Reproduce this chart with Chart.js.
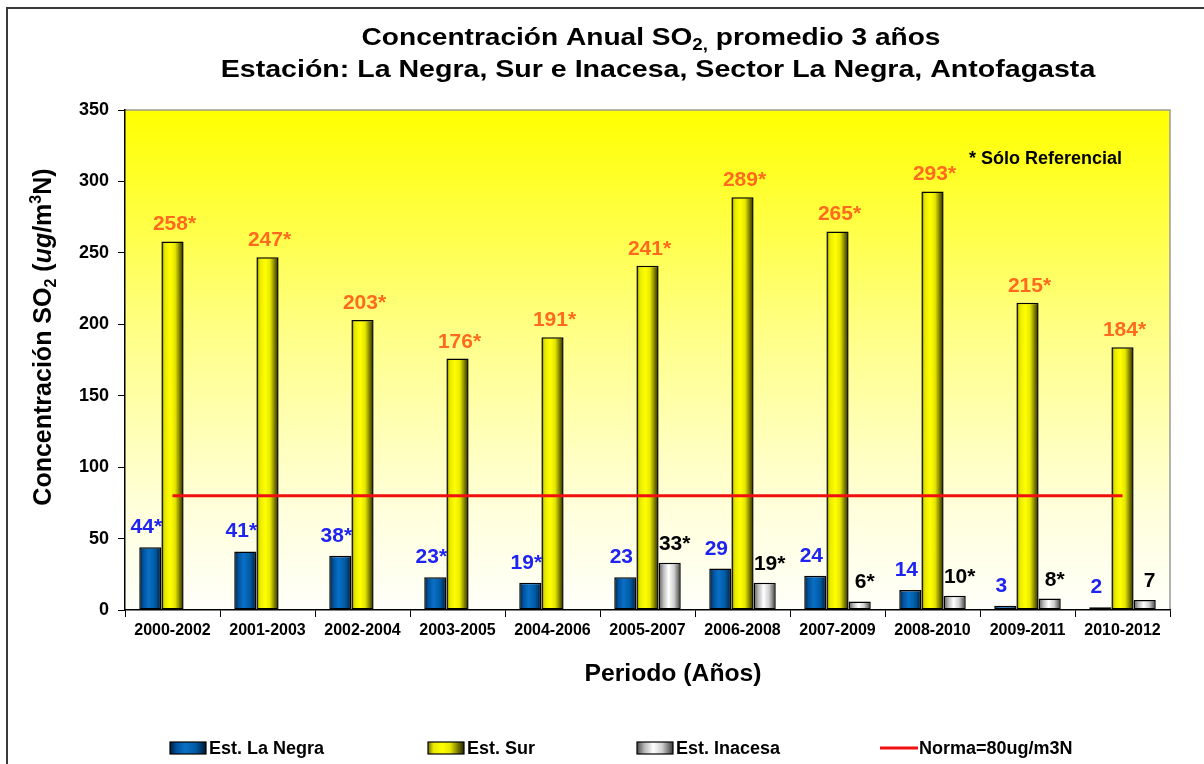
<!DOCTYPE html>
<html>
<head>
<meta charset="utf-8">
<title>Concentración Anual SO2</title>
<script src="https://cdn.jsdelivr.net/npm/chart.js@4.4.1/dist/chart.umd.min.js"></script>
<style>
  html, body { margin: 0; padding: 0; background: #ffffff; }
  #wrap { width: 1204px; height: 764px; position: relative; }
</style>
</head>
<body>
<div id="wrap"><canvas id="chart" width="1204" height="764"></canvas></div>
<script>
// Three-year rolling averages of SO2 (ug/m3N) per monitoring station
const periods = ['2000-2002', '2001-2003', '2002-2004', '2003-2005', '2004-2006', '2005-2007',
                 '2006-2008', '2007-2009', '2008-2010', '2009-2011', '2010-2012'];
const laNegra = [44, 41, 38, 23, 19, 23, 29, 24, 14, 3, 2];
const sur = [258, 247, 203, 176, 191, 241, 289, 265, 293, 215, 184];
const inacesa = [null, null, null, null, null, 33, 19, 6, 10, 8, 7];
// true = value is only a reference (marked with *)
const laNegraRef = [true, true, true, true, true, false, false, false, false, false, false];
const surRef = [true, true, true, true, true, true, true, true, true, true, true];
const inacesaRef = [false, false, false, false, false, true, true, true, true, true, false];
const norma = 80;
const normaLine = periods.map(() => norma);
const yMin = 0, yMax = 350, yStep = 50;

const FONT = "'Liberation Sans', Arial, sans-serif";

const blueStops = [[0, '#00203f'], [0.18, '#00529c'], [0.42, '#0a70c6'], [0.72, '#005aa4'], [1, '#001a33']];
const yellowStops = [[0, '#707000'], [0.15, '#e8e800'], [0.4, '#ffff00'], [0.62, '#e6e600'], [0.86, '#6a6a00'], [1, '#262600']];
const greyStops = [[0, '#4a4a4a'], [0.2, '#b4b4b4'], [0.45, '#ffffff'], [0.7, '#cfcfcf'], [1, '#3a3a3a']];

function hGrad(ctx, x0, x1, stops) {
  const g = ctx.createLinearGradient(x0, 0, x1, 0);
  stops.forEach(([p, c]) => g.addColorStop(p, c));
  return g;
}

// Draws a sequence of text runs (for sub/superscripts and mixed styles)
function drawRuns(ctx, runs, x, y, sx) {
  sx = sx || 1;
  let w = 0;
  runs.forEach(r => { ctx.font = r.font; r.w = ctx.measureText(r.t).width; w += r.w; });
  ctx.save();
  ctx.translate(x, y);
  ctx.scale(sx, 1);
  ctx.textAlign = 'left';
  ctx.textBaseline = 'alphabetic';
  let cx = -w / 2;
  runs.forEach(r => { ctx.font = r.font; ctx.fillText(r.t, cx, r.dy || 0); cx += r.w; });
  ctx.restore();
}

const barStyles = [blueStops, yellowStops, greyStops];

// Frame, plot background and bar gradients
const backdrop = {
  id: 'backdrop',
  beforeDraw(chart) {
    const { ctx, chartArea: a } = chart;
    ctx.save();
    ctx.fillStyle = '#ffffff';
    ctx.fillRect(0, 0, chart.width, chart.height);
    ctx.strokeStyle = '#3a3a3a';
    ctx.lineWidth = 2;
    ctx.beginPath();
    ctx.moveTo(7, chart.height);
    ctx.lineTo(7, 8);
    ctx.lineTo(chart.width, 8);
    ctx.stroke();
    const g = ctx.createLinearGradient(0, a.top, 0, a.bottom);
    g.addColorStop(0, '#ffff00');
    g.addColorStop(0.45, '#ffff88');
    g.addColorStop(0.8, '#ffffdc');
    g.addColorStop(1, '#fffffa');
    ctx.fillStyle = g;
    ctx.fillRect(a.left, a.top, a.right - a.left, a.bottom - a.top);
    ctx.strokeStyle = '#9a9a9a';
    ctx.lineWidth = 1.5;
    ctx.beginPath();
    ctx.moveTo(a.left, a.top);
    ctx.lineTo(a.right, a.top);
    ctx.lineTo(a.right, a.bottom);
    ctx.stroke();
    ctx.restore();
  },
  beforeDatasetsDraw(chart) {
    const ctx = chart.ctx;
    chart.data.datasets.forEach((ds, i) => {
      if (ds.type === 'line') return;
      const stops = barStyles[ds.styleIndex];
      chart.getDatasetMeta(i).data.forEach(el => {
        const half = el.width / 2;
        el.options = Object.assign({}, el.options, {
          backgroundColor: hGrad(ctx, el.x - half, el.x + half, stops)
        });
      });
    });
  }
};

// Value labels above the bars
const valueLabels = {
  id: 'valueLabels',
  afterDatasetsDraw(chart) {
    const ctx = chart.ctx;
    ctx.save();
    ctx.font = 'bold 21px ' + FONT;
    ctx.textAlign = 'center';
    ctx.textBaseline = 'alphabetic';
    chart.data.datasets.forEach((ds, i) => {
      if (ds.type === 'line') return;
      const meta = chart.getDatasetMeta(i);
      meta.data.forEach((el, j) => {
        const v = ds.data[j];
        if (v === null || v === undefined) return;
        const txt = String(v) + (ds.refFlags[j] ? '*' : '');
        ctx.fillStyle = ds.labelColor;
        ctx.fillText(txt, el.x + ds.labelDx, el.y - ds.labelGap);
      });
    });
    ctx.restore();
  }
};

// Titles, axis titles, note and legend
const texts = {
  id: 'texts',
  afterDraw(chart) {
    const ctx = chart.ctx;
    ctx.save();
    ctx.fillStyle = '#000000';
    const tB = 'bold 24px ' + FONT, tS = 'bold 16px ' + FONT;
    drawRuns(ctx, [
      { t: 'Concentración Anual SO', font: tB },
      { t: '2,', font: tS, dy: 5 },
      { t: ' promedio 3 años', font: tB }
    ], 651, 45, 1.17);
    drawRuns(ctx, [
      { t: 'Estación: La Negra, Sur e Inacesa, Sector La Negra, Antofagasta', font: tB }
    ], 658, 77, 1.19);

    // y-axis title
    ctx.save();
    ctx.translate(51, 337);
    ctx.rotate(-Math.PI / 2);
    const yB = 'bold 25px ' + FONT, yS = 'bold 16px ' + FONT, yI = 'italic bold 25px ' + FONT;
    drawRuns(ctx, [
      { t: 'Concentración SO', font: yB },
      { t: '2', font: yS, dy: 5 },
      { t: ' (', font: yB },
      { t: 'ug', font: yI },
      { t: '/m', font: yB },
      { t: '3', font: yS, dy: -10 },
      { t: 'N)', font: yB }
    ], 0, 0, 1);
    ctx.restore();

    // x-axis title
    drawRuns(ctx, [{ t: 'Periodo (Años)', font: 'bold 24px ' + FONT }], 673, 681, 1.03);

    // note
    ctx.font = 'bold 18px ' + FONT;
    ctx.textAlign = 'left';
    ctx.textBaseline = 'alphabetic';
    ctx.fillText('* Sólo Referencial', 969, 164);

    // legend
    const ly = 748;
    const items = [
      { x: 170, kind: 'bar', ds: 1 },
      { x: 428, kind: 'bar', ds: 2 },
      { x: 637, kind: 'bar', ds: 3 },
      { x: 880, kind: 'line', ds: 0 }
    ];
    ctx.font = 'bold 18px ' + FONT;
    ctx.textBaseline = 'middle';
    items.forEach(it => {
      const ds = chart.data.datasets[it.ds];
      if (it.kind === 'bar') {
        ctx.fillStyle = hGrad(ctx, it.x, it.x + 36, barStyles[ds.styleIndex]);
        ctx.fillRect(it.x, ly - 6, 36, 12);
        ctx.strokeStyle = '#000';
        ctx.lineWidth = 1.2;
        ctx.strokeRect(it.x, ly - 6, 36, 12);
      } else {
        ctx.strokeStyle = ds.borderColor;
        ctx.lineWidth = 3;
        ctx.beginPath();
        ctx.moveTo(it.x, ly);
        ctx.lineTo(it.x + 38, ly);
        ctx.stroke();
      }
      ctx.fillStyle = '#000';
      ctx.fillText(ds.label, it.x + 39, ly + 1);
    });
    ctx.restore();
  }
};

const tickFontY = { family: FONT, size: 18, weight: 'bold' };
const tickFontX = { family: FONT, size: 16, weight: 'bold' };

new Chart(document.getElementById('chart'), {
  data: {
    labels: periods,
    datasets: [
      {
        type: 'line', label: 'Norma=80ug/m3N', data: normaLine,
        borderColor: '#f01010', borderWidth: 3, pointRadius: 0, fill: false, order: 0
      },
      {
        type: 'bar', label: 'Est. La Negra', data: laNegra, refFlags: laNegraRef,
        styleIndex: 0, labelColor: '#1f24f2', labelDx: -4, labelGap: 14,
        backgroundColor: () => '#0063ae', borderColor: '#000', borderWidth: 1.5,
        borderSkipped: false, order: 1
      },
      {
        type: 'bar', label: 'Est. Sur', data: sur, refFlags: surRef,
        styleIndex: 1, labelColor: '#ff6a1f', labelDx: 2, labelGap: 11,
        backgroundColor: () => '#ffff00', borderColor: '#000', borderWidth: 1.5,
        borderSkipped: false, order: 1
      },
      {
        type: 'bar', label: 'Est. Inacesa', data: inacesa, refFlags: inacesaRef,
        styleIndex: 2, labelColor: '#000000', labelDx: 5, labelGap: 13,
        backgroundColor: () => '#d0d0d0', borderColor: '#000', borderWidth: 1.5,
        borderSkipped: false, order: 1
      }
    ]
  },
  options: {
    responsive: false,
    animation: false,
    devicePixelRatio: 1,
    layout: { padding: { left: 0, top: 110, right: 34, bottom: 0 } },
    datasets: { bar: { categoryPercentage: 0.7, barPercentage: 1 } },
    plugins: { legend: { display: false }, title: { display: false }, tooltip: { enabled: false } },
    scales: {
      x: {
        offset: true,
        grid: { offset: true, drawOnChartArea: false, drawTicks: true, tickLength: 7, color: '#000' },
        border: { display: true, color: '#000', width: 1.5 },
        ticks: { font: tickFontX, color: '#000', padding: 4, maxRotation: 0, autoSkip: false },
        afterFit(s) { s.height = 154; }
      },
      y: {
        min: yMin, max: yMax,
        grid: { drawOnChartArea: false, drawTicks: true, tickLength: 7, color: '#000' },
        border: { display: true, color: '#000', width: 1.5 },
        ticks: { stepSize: yStep, font: tickFontY, color: '#000', padding: 9 },
        afterFit(s) { s.width = 125; }
      }
    }
  },
  plugins: [backdrop, valueLabels, texts]
});
</script>
</body>
</html>
